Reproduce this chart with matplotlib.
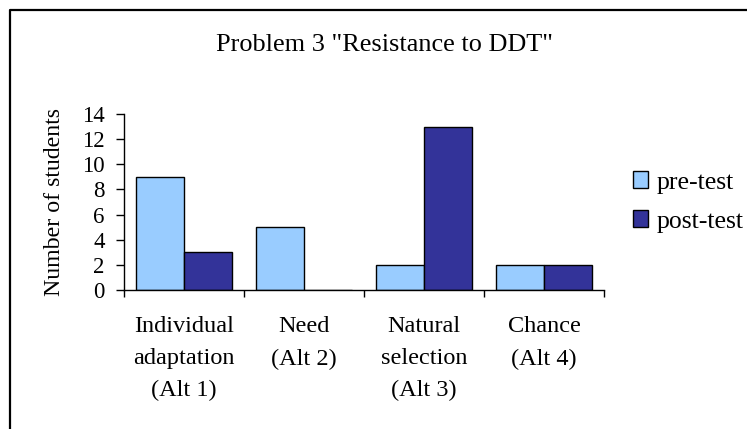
import matplotlib
matplotlib.use("Agg")
import matplotlib.pyplot as plt
from matplotlib.lines import Line2D
import numpy as np

plt.rcParams['font.family'] = ['Liberation Serif', 'DejaVu Serif']

categories = ["Individual\nadaptation\n(Alt 1)", "Need\n(Alt 2)", "Natural\nselection\n(Alt 3)", "Chance\n(Alt 4)"]
pre_test = [9, 5, 2, 2]
post_test = [3, 0, 13, 2]
series_names = ["pre-test", "post-test"]
title = 'Problem 3 "Resistance to DDT"'
ylabel = "Number of students"
yticks = [0, 2, 4, 6, 8, 10, 12, 14]

W, H = 747, 429
fig = plt.figure(figsize=(W / 100, H / 100), dpi=100)
ax = fig.add_axes([124 / W, 1 - 290 / H, (604 - 124) / W, (290 - 114) / H])

x = np.arange(len(categories))
bw = 0.4
b1 = ax.bar(x - bw / 2, pre_test, bw, color="#99CCFF", edgecolor="black", linewidth=1.0, label=series_names[0])
b2 = ax.bar(x + bw / 2, post_test, bw, color="#333399", edgecolor="black", linewidth=1.0, label=series_names[1])

ax.set_xlim(-0.5, len(categories) - 0.5)
ax.set_ylim(0, 14)
ax.set_yticks(yticks)
ax.set_yticklabels([str(v) for v in yticks], fontsize=16.5)
ax.tick_params(axis="y", direction="out", length=6, width=1, pad=8)

ax.set_xticks(np.arange(len(categories) + 1) - 0.5)
ax.set_xticklabels([])
ax.tick_params(axis="x", which="major", direction="out", length=5, width=1)
ax.set_xticks(x, minor=True)
ax.set_xticklabels(categories, minor=True, fontsize=17.5, linespacing=1.68)
ax.tick_params(axis="x", which="minor", length=0, pad=19)

for s in ["top", "right"]:
    ax.spines[s].set_visible(False)
for s in ["left", "bottom"]:
    ax.spines[s].set_linewidth(1.0)

ax.set_ylabel(ylabel, fontsize=17.2, labelpad=12)

fig.text(385 / W, 1 - 45 / H, title, ha="center", va="center", fontsize=18.9)

leg = fig.legend(handles=[b1, b2], labels=series_names, loc="center left",
                 bbox_to_anchor=(633 / W, 1 - 202 / H), frameon=False, fontsize=18.5,
                 borderpad=0, borderaxespad=0,
                 handlelength=0.6, handleheight=0.6, handletextpad=0.32, labelspacing=0.66)

# outer chart border (left and top visible)
fig.add_artist(Line2D([10 / W, 10 / W, 1.01], [-0.01, 1 - 10 / H, 1 - 10 / H],
                      transform=fig.transFigure, color="black", linewidth=1.6))

fig.savefig("out.png", dpi=100)
